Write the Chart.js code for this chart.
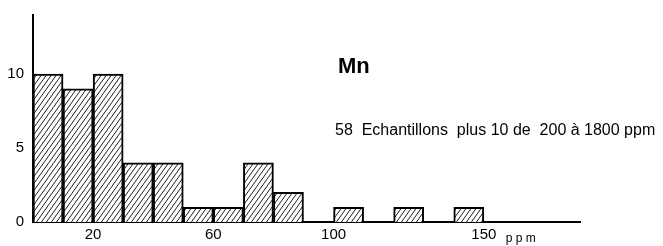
<!DOCTYPE html>
<html><head><meta charset="utf-8">
<script src="https://cdn.jsdelivr.net/npm/chart.js@4/dist/chart.umd.min.js"></script>
<style>html,body{margin:0;padding:0;background:#fff}#w{width:663px;height:246px;position:relative}</style>
</head><body><div id="w"><canvas id="c"></canvas></div>
<script>
// Bin centres (ppm), counts per 10-ppm bin
const binCenters = [5,15,25,35,45,55,65,75,85,95,105,115,125,135,145];
const counts     = [10,9,10,4,4,1,1,4,2,null,1,null,1,null,1];
const xTickValues = [20,60,100,150];
const yTickValues = [0,5,10];
const titleText = "Mn";
const noteText = "58  Echantillons  plus 10 de  200 à 1800 ppm";
const unitText = "p p m";

function hatch(){
  const w=5,h=7,cv=document.createElement('canvas');cv.width=w;cv.height=h;
  const g=cv.getContext('2d');g.fillStyle='#fff';g.fillRect(0,0,w,h);
  g.strokeStyle='#222';g.lineWidth=1;
  g.beginPath();g.moveTo(-w,2*h);g.lineTo(2*w,-h);g.moveTo(0,2*h);g.lineTo(3*w,-h);g.moveTo(-2*w,2*h);g.lineTo(w,-h);g.stroke();
  return g.createPattern(cv,'repeat');
}
const textPlugin={id:'txt',afterDraw(ch){
  const c=ch.ctx,xs=ch.scales.x;c.save();c.fillStyle='#000';c.textBaseline='alphabetic';
  c.font='bold 22px "Liberation Sans"';c.fillText(titleText,338,73);
  c.font='16px "Liberation Sans Narrow", "Liberation Sans"';c.fillText(noteText,335,135,327);
  c.font='12px "Liberation Sans"';c.fillText(unitText,xs.getPixelForValue(150)+22,242);
  c.restore();}};
new Chart(document.getElementById('c'),{
  type:'bar',
  data:{datasets:[{data:binCenters.map((x,i)=>({x:x,y:counts[i]})),backgroundColor:hatch(),borderColor:'#000',borderWidth:2,borderSkipped:'bottom',barPercentage:1,categoryPercentage:1}]},
  options:{responsive:true,maintainAspectRatio:false,animation:false,
    layout:{padding:{top:10,right:83,left:0,bottom:0}},
    plugins:{legend:{display:false},tooltip:{enabled:false}},
    scales:{
      x:{type:'linear',offset:false,min:0,max:182,grid:{display:false,drawTicks:false,offset:false},border:{color:'#000',width:2},
        afterBuildTicks:s=>{s.ticks=xTickValues.map(v=>({value:v}));},
        afterFit:s=>{s.height=24;},
        ticks:{color:'#000',font:{family:'Liberation Sans',size:15},padding:4,maxRotation:0,autoSkip:false}},
      y:{min:0,max:14,grid:{display:false,drawTicks:true,tickLength:3,tickColor:'#000'},border:{color:'#000',width:2},
        afterBuildTicks:s=>{s.ticks=yTickValues.map(v=>({value:v}));},
        afterFit:s=>{s.width=33;},
        ticks:{color:'#000',font:{family:'Liberation Sans',size:15},padding:6}}
    }},
  plugins:[textPlugin]
});
</script></body></html>
